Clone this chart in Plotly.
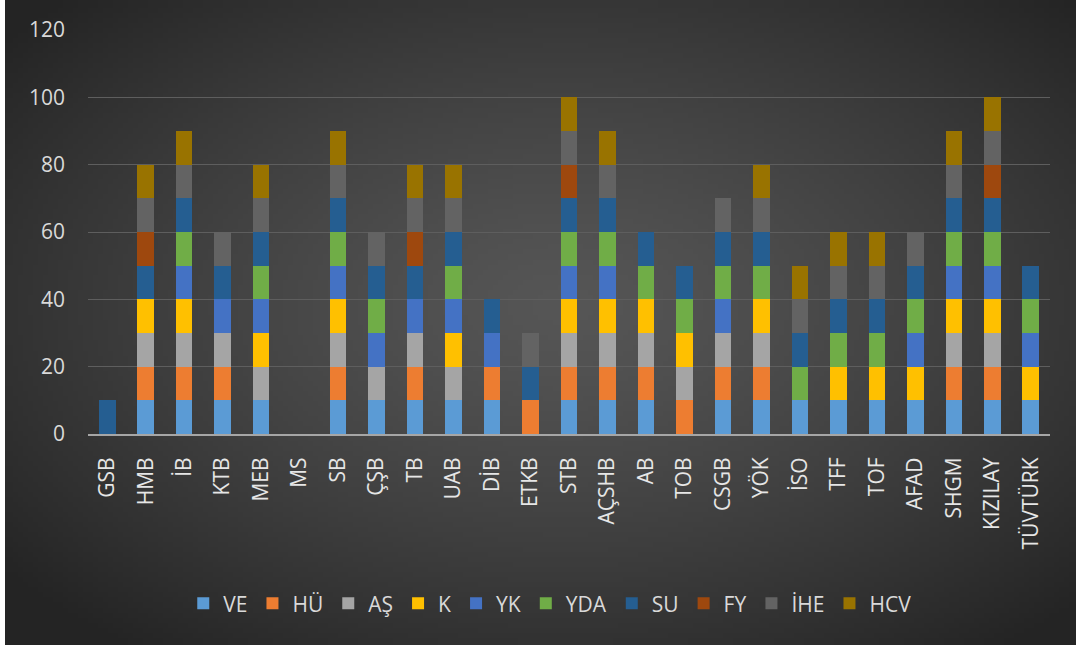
import plotly.graph_objects as go
import numpy as np
import zlib, struct, base64

categories = ["GSB", "HMB", "İB", "KTB", "MEB", "MS", "SB", "ÇŞB", "TB", "UAB", "DİB", "ETKB",
              "STB", "AÇSHB", "AB", "TOB", "CSGB", "YÖK", "İSO", "TFF", "TOF", "AFAD", "SHGM",
              "KIZILAY", "TÜVTÜRK"]

VE  = [0, 10, 10, 10, 10, 0, 10, 10, 10, 10, 10, 0, 10, 10, 10, 0, 10, 10, 10, 10, 10, 10, 10, 10, 10]
HU  = [0, 10, 10, 10, 0, 0, 10, 0, 10, 0, 10, 10, 10, 10, 10, 10, 10, 10, 0, 0, 0, 0, 10, 10, 0]
AS  = [0, 10, 10, 10, 10, 0, 10, 10, 10, 10, 0, 0, 10, 10, 10, 10, 10, 10, 0, 0, 0, 0, 10, 10, 0]
K   = [0, 10, 10, 0, 10, 0, 10, 0, 0, 10, 0, 0, 10, 10, 10, 10, 0, 10, 0, 10, 10, 10, 10, 10, 10]
YK  = [0, 0, 10, 10, 10, 0, 10, 10, 10, 10, 10, 0, 10, 10, 0, 0, 10, 0, 0, 0, 0, 10, 10, 10, 10]
YDA = [0, 0, 10, 0, 10, 0, 10, 10, 0, 10, 0, 0, 10, 10, 10, 10, 10, 10, 10, 10, 10, 10, 10, 10, 10]
SU  = [10, 10, 10, 10, 10, 0, 10, 10, 10, 10, 10, 10, 10, 10, 10, 10, 10, 10, 10, 10, 10, 10, 10, 10, 10]
FY  = [0, 10, 0, 0, 0, 0, 0, 0, 10, 0, 0, 0, 10, 0, 0, 0, 0, 0, 0, 0, 0, 0, 0, 10, 0]
IHE = [0, 10, 10, 10, 10, 0, 10, 10, 10, 10, 0, 10, 10, 10, 0, 0, 10, 10, 10, 10, 10, 10, 10, 10, 0]
HCV = [0, 10, 10, 0, 10, 0, 10, 0, 10, 10, 0, 0, 10, 10, 0, 0, 0, 10, 10, 10, 10, 0, 10, 10, 0]

series_names = ["VE", "HÜ", "AŞ", "K", "YK", "YDA", "SU", "FY", "İHE", "HCV"]
series_values = [VE, HU, AS, K, YK, YDA, SU, FY, IHE, HCV]
series_colors = ["#5B9BD5", "#ED7D31", "#A5A5A5", "#FFC000", "#4472C4",
                 "#70AD47", "#255E91", "#9E480E", "#636363", "#997300"]

y_ticks = [0, 20, 40, 60, 80, 100, 120]


# radial gradient background image (style only)
def make_png(w, h):
    yy, xx = np.mgrid[0:h, 0:w]
    dx = (xx - w * 0.52) / (w * 0.5)
    dy = (yy - h * 0.47) / (h * 0.5)
    r = np.clip(np.sqrt(dx ** 2 + dy ** 2) / 1.35, 0, 1)
    v = (86 - (86 - 36) * r ** 1.3).astype(np.uint8)
    rgb = np.stack([v, v, v], axis=-1)
    raw = b"".join(b"\x00" + rgb[i].tobytes() for i in range(h))

    def chunk(t, d):
        c = struct.pack(">I", len(d)) + t + d
        return c + struct.pack(">I", zlib.crc32(t + d) & 0xffffffff)

    png = b"\x89PNG\r\n\x1a\n" + chunk(b"IHDR", struct.pack(">IIBBBBB", w, h, 8, 2, 0, 0, 0))
    png += chunk(b"IDAT", zlib.compress(raw, 9)) + chunk(b"IEND", b"")
    return "data:image/png;base64," + base64.b64encode(png).decode()


bg = make_png(214, 128)

fig = go.Figure()
for name, vals, col in zip(series_names, series_values, series_colors):
    fig.add_trace(go.Bar(x=categories, y=vals, name=name, marker_color=col,
                         marker_line_width=0))

fig.update_layout(
    barmode="stack",
    bargap=0.57,
    width=1071, height=645,
    paper_bgcolor="#3a3a3a",
    plot_bgcolor="rgba(0,0,0,0)",
    font=dict(family="Open Sans, Noto Sans, sans-serif", color="#D9D9D9", size=16),
    margin=dict(l=83, r=26, t=30, b=211),
    xaxis=dict(tickangle=-90, tickfont=dict(size=21, color="#E6E6E6"),
               showline=True, linecolor="#A6A6A6", linewidth=2, showgrid=False,
               ticks="", ticklen=0, ticklabelstandoff=13),
    yaxis=dict(range=[0, 120], tickvals=y_ticks, tickfont=dict(size=21, color="#D9D9D9"),
               showgrid=True, gridcolor="#5E5E5E", gridwidth=1, zeroline=False,
               ticklabelstandoff=22),
    legend=dict(orientation="h", x=0.48, xanchor="center", y=-0.42, yanchor="middle",
                font=dict(size=21, color="#D9D9D9"), itemwidth=30,
                traceorder="normal", bgcolor="rgba(0,0,0,0)"),
    images=[dict(source=bg, xref="paper", yref="paper", x=-83 / 962, y=1 + 30 / 404,
                 sizex=1071 / 962, sizey=645 / 404, xanchor="left", yanchor="top",
                 sizing="stretch", layer="below")],
)

fig.write_html("out.html",
               post_script="document.body.style.margin='0 0 0 5px';"
                           "document.body.style.overflow='hidden';"
                           "document.body.style.background='#ffffff';")
